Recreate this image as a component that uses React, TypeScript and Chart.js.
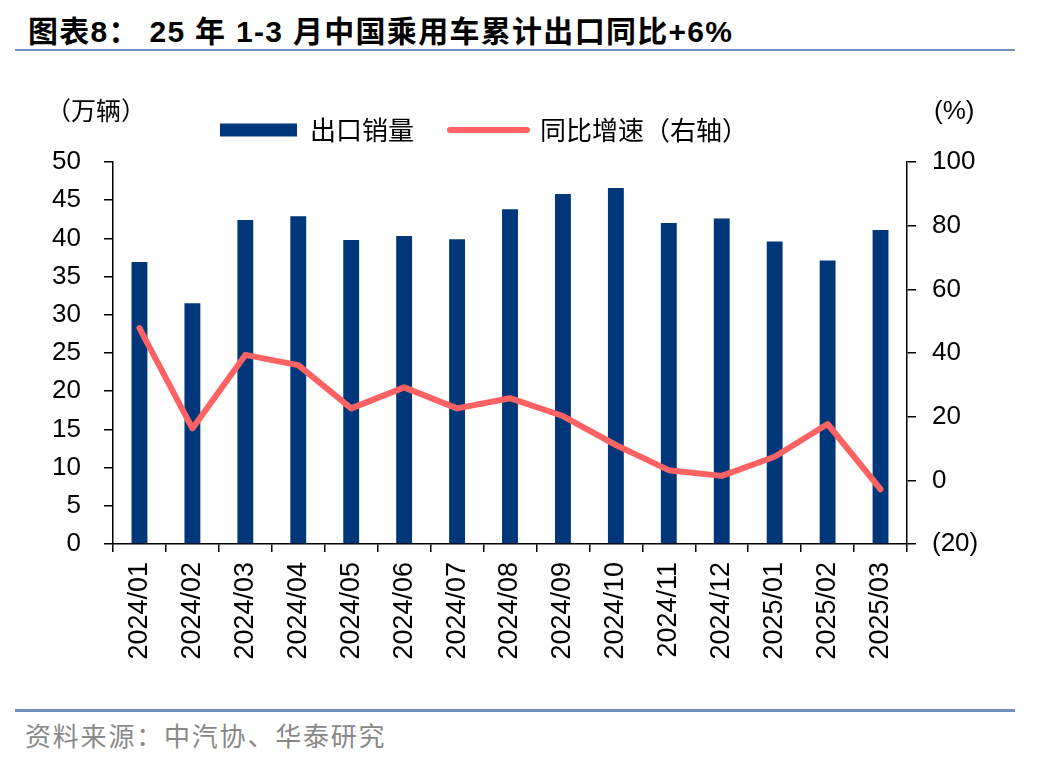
import React, { useEffect, useRef } from "react";
import { Chart, registerables } from "chart.js";

Chart.register(...registerables);

const categories = [
  "2024/01", "2024/02", "2024/03", "2024/04", "2024/05", "2024/06", "2024/07", "2024/08",
  "2024/09", "2024/10", "2024/11", "2024/12", "2025/01", "2025/02", "2025/03",
];
const exportVolume = [36.9, 31.5, 42.4, 42.9, 39.8, 40.3, 39.9, 43.8, 45.8, 46.6, 42.0, 42.6, 39.6, 37.1, 41.1];
const yoyGrowth = [47.8, 16.3, 39.4, 36.2, 22.6, 29.2, 22.6, 25.8, 20.2, 11.1, 3.2, 1.4, 7.4, 17.7, -2.8];
const barLabel = "出口销量";
const lineLabel = "同比增速（右轴）";

const BAR_COLOR = "#00377A";
const LINE_COLOR = "#FF6262";
const NUM_FONT = "'Liberation Sans', Arial, sans-serif";
const CJK_FONT = "'Noto Sans CJK SC', sans-serif";

const legendShift = {
  id: "legendShift",
  afterLayout(chart: any) {
    const l = chart.legend;
    if (!l) return;
    l.left -= 40;
    l.right -= 40;
    l.top -= 9;
    l.bottom -= 9;
  },
};

export default function App() {
  const ref = useRef<HTMLCanvasElement | null>(null);

  useEffect(() => {
    if (!ref.current) return;
    const tickFont = { family: NUM_FONT, size: 26 };
    const chart = new Chart(ref.current, {
      type: "bar",
      data: {
        labels: categories,
        datasets: [
          {
            type: "bar",
            label: barLabel,
            data: exportVolume,
            backgroundColor: BAR_COLOR,
            borderWidth: 0,
            barPercentage: 0.3,
            categoryPercentage: 1,
            yAxisID: "y",
            order: 1,
          },
          {
            type: "line",
            label: lineLabel,
            data: yoyGrowth,
            borderColor: LINE_COLOR,
            backgroundColor: LINE_COLOR,
            borderWidth: 6,
            borderCapStyle: "round",
            borderJoinStyle: "round",
            pointRadius: 0,
            tension: 0,
            yAxisID: "y1",
            order: 0,
          } as any,
        ],
      },
      options: {
        animation: false,
        responsive: false,
        maintainAspectRatio: false,
        layout: { padding: { top: 90, left: 0, right: 0, bottom: 0 } },
        plugins: {
          tooltip: { enabled: false },
          legend: {
            display: true,
            position: "top",
            align: "center",
            labels: {
              usePointStyle: true,
              pointStyleWidth: 77,
              boxHeight: 13,
              padding: 36,
              color: "#000",
              font: { family: CJK_FONT, size: 26 },
              sort: (a: any, b: any) => a.datasetIndex - b.datasetIndex,
              generateLabels: () => [
                {
                  text: barLabel,
                  fillStyle: BAR_COLOR,
                  strokeStyle: BAR_COLOR,
                  lineWidth: 0,
                  pointStyle: "rect",
                  datasetIndex: 0,
                  fontColor: "#000",
                  hidden: false,
                },
                {
                  text: lineLabel,
                  fillStyle: LINE_COLOR,
                  strokeStyle: LINE_COLOR,
                  lineWidth: 6,
                  lineCap: "round",
                  pointStyle: "line",
                  datasetIndex: 1,
                  fontColor: "#000",
                  hidden: false,
                } as any,
              ],
            },
          },
        },
        scales: {
          x: {
            type: "category",
            offset: true,
            grid: {
              display: true,
              drawOnChartArea: false,
              drawTicks: true,
              tickLength: 8,
              color: "#000",
              lineWidth: 1.5,
              offset: true,
            },
            border: { display: true, color: "#000", width: 1.5 },
            ticks: {
              font: { family: NUM_FONT, size: 27 },
              color: "#000",
              minRotation: 90,
              maxRotation: 90,
              autoSkip: false,
              padding: 10,
            },
            afterFit: (s: any) => {
              s.height = 156;
            },
          },
          y: {
            position: "left",
            min: 0,
            max: 50,
            grid: {
              drawOnChartArea: false,
              drawTicks: true,
              tickLength: 9,
              color: "#000",
              lineWidth: 1.5,
            },
            border: { display: true, color: "#000", width: 1.5 },
            ticks: { stepSize: 5, padding: 23, font: tickFont, color: "#000" },
            afterFit: (s: any) => {
              s.width = 113;
            },
          },
          y1: {
            position: "right",
            min: -20,
            max: 100,
            grid: {
              drawOnChartArea: false,
              drawTicks: true,
              tickLength: 9,
              color: "#000",
              lineWidth: 1.5,
            },
            border: { display: true, color: "#000", width: 1.5 },
            ticks: {
              stepSize: 20,
              padding: 16,
              font: tickFont,
              color: "#000",
              callback: (v: any) => (Number(v) < 0 ? `(${Math.abs(Number(v))})` : `${v}`),
            },
            afterFit: (s: any) => {
              s.width = 141;
            },
          },
        },
      },
      plugins: [legendShift],
    });
    return () => chart.destroy();
  }, []);

  return (
    <div style={{ position: "absolute", left: 0, top: 0, width: 1048, height: 760, background: "#fff", overflow: "hidden" }}>
      <div
        style={{
          position: "absolute",
          left: 28,
          top: 15,
          fontFamily: `${NUM_FONT.split(",")[0]}, ${CJK_FONT}`,
          fontWeight: "bold",
          fontSize: 30,
          lineHeight: "34px",
          letterSpacing: "1.3px",
          color: "#000",
          whiteSpace: "pre",
        }}
      >
        {"图表8： 25 年 1-3 月中国乘用车累计出口同比+6%"}
      </div>
      <div style={{ position: "absolute", left: 15, top: 49, width: 1000, height: 2, background: "#6E8FC0" }} />
      <canvas ref={ref} width={1048} height={700} style={{ position: "absolute", left: 0, top: 0, width: 1048, height: 700 }} />
      <div
        style={{
          position: "absolute",
          left: 46,
          top: 94,
          fontFamily: CJK_FONT,
          fontSize: 25,
          lineHeight: "30px",
          color: "#000",
          whiteSpace: "pre",
        }}
      >
        {"（万辆）"}
      </div>
      <div
        style={{
          position: "absolute",
          left: 934,
          top: 95,
          fontFamily: NUM_FONT,
          fontSize: 26,
          lineHeight: "30px",
          color: "#000",
        }}
      >
        {"(%)"}
      </div>
      <div style={{ position: "absolute", left: 15, top: 709, width: 1000, height: 3, background: "#6E8FC0" }} />
      <div
        style={{
          position: "absolute",
          left: 25,
          top: 719,
          fontFamily: CJK_FONT,
          fontSize: 26,
          lineHeight: "32px",
          letterSpacing: "1.8px",
          color: "#888",
          whiteSpace: "pre",
        }}
      >
        {"资料来源：中汽协、华泰研究"}
      </div>
    </div>
  );
}
